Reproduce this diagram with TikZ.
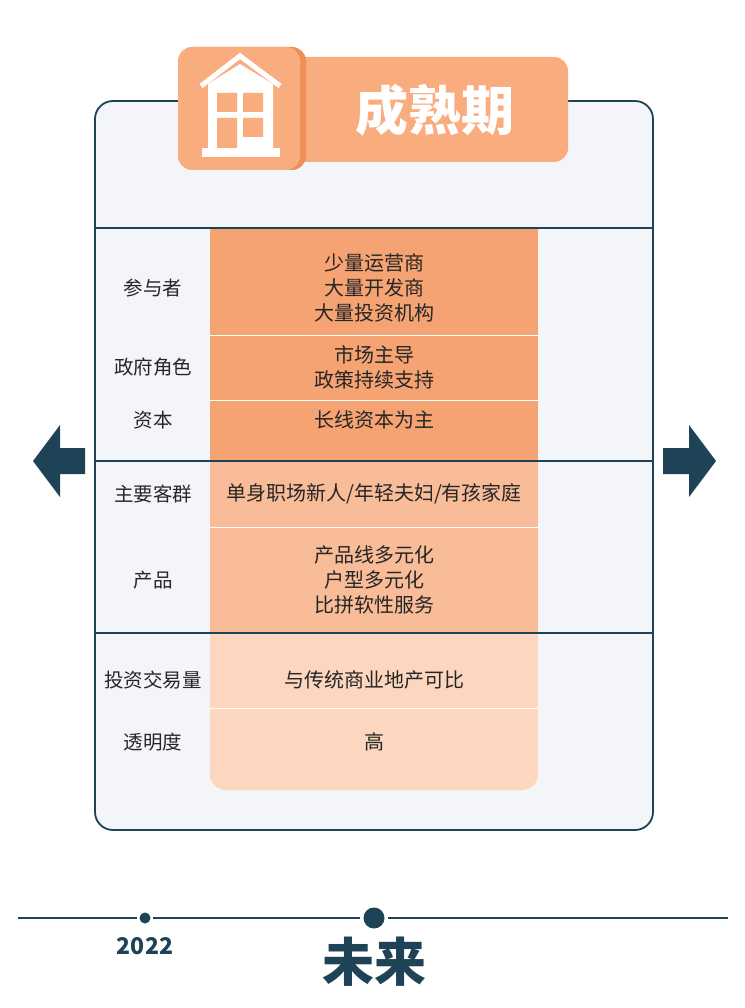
\documentclass[tikz,border=0pt]{standalone}
\usepackage{fontspec}
\setmainfont{Noto Sans CJK SC}
\usetikzlibrary{positioning}
\definecolor{navy}{HTML}{1E4356}
\definecolor{cardbg}{HTML}{F3F5F9}
\definecolor{orA}{HTML}{F5A372}
\definecolor{orB}{HTML}{F9BC98}
\definecolor{orC}{HTML}{FCD6BF}
\definecolor{orH}{HTML}{F9AC7E}
\definecolor{orD}{HTML}{EE8F58}
\tikzset{
  rowlbl/.style={font=\fontsize{19.5}{22}\selectfont, text=black!85, align=center},
  cell/.style={font=\fontsize{20}{25}\selectfont, text=black!85, align=center},
  sepline/.style={white, line width=0.8pt}
}
\begin{document}
\begin{tikzpicture}[x=1pt,y=-1pt]
\fill[white] (0,0) rectangle (744,1008);
% card
\draw[navy, line width=1.8pt, fill=cardbg, rounded corners=18pt] (95,101) rectangle (653,830);
% orange column
\fill[orA] (210,228) rectangle (538,461);
\fill[orB] (210,461) rectangle (538,633);
\fill[orC, rounded corners=16pt] (210,633) -- (210,790) -- (538,790) -- (538,633) -- cycle;
\fill[orC] (210,633) rectangle (538,660);
\draw[sepline] (210,335) -- (538,335) (210,400) -- (538,400) (210,527) -- (538,527) (210,708) -- (538,708);
\foreach \y in {228,461,633}{
  \draw[navy, line width=1.2pt] (95,\y) -- (653,\y);
}
% header
\fill[orH, rounded corners=14pt] (285,57) rectangle (568,162);
\fill[orD, rounded corners=14pt] (184,47) rectangle (306,170);
\fill[orH, rounded corners=14pt] (178,47) rectangle (300,170);
\node[font=\fontsize{53}{56}\selectfont\bfseries, text=white] (title) at (435,110) {成熟期};
% house icon
\draw[white, line width=5pt] (201,86) -- (240,56) -- (280,86);
\fill[white] (208,84) -- (240,64) -- (273,84) -- (273,148) -- (208,148) -- cycle;
\fill[white] (202,148) rectangle (280,157);
\fill[orH] (217,93) rectangle (237,112) (243,93) rectangle (263,112)
  (217,118) rectangle (237,148) (243,118) rectangle (263,137);
% arrows
\fill[navy] (33,461) -- (60,425) -- (60,448) -- (85,448) -- (85,474) -- (60,474) -- (60,497) -- cycle;
\fill[navy] (716,461) -- (689,425) -- (689,448) -- (663,448) -- (663,474) -- (689,474) -- (689,497) -- cycle;
% labels
\node[rowlbl] (l1) at (153,288) {参与者};
\node[rowlbl] (l2) at (153,367) {政府角色};
\node[rowlbl] (l3) at (153,420) {资本};
\node[rowlbl] (l4) at (153,494) {主要客群};
\node[rowlbl] (l5) at (153,580) {产品};
\node[rowlbl] (l6) at (153,680) {投资交易量};
\node[rowlbl] (l7) at (153,742) {透明度};
\node[cell] (c1) at (374,288) {少量运营商\\大量开发商\\大量投资机构};
\node[cell] (c2) at (374,367) {市场主导\\政策持续支持};
\node[cell] (c3) at (374,420) {长线资本为主};
\node[cell] (c4) at (374,494) {单身职场新人/年轻夫妇/有孩家庭};
\node[cell] (c5) at (374,580) {产品线多元化\\户型多元化\\比拼软性服务};
\node[cell] (c6) at (374,680) {与传统商业地产可比};
\node[cell] (c7) at (374,742) {高};
% timeline
\coordinate (tl) at (18,918);
\coordinate (tr) at (728,918);
\draw[navy, line width=2.5pt] (tl) -- (tr);
\fill[white] (145,918) circle (8);
\fill[navy] (145,918) circle (5.5);
\fill[white] (374,918) circle (14);
\fill[navy] (374,918) circle (10.5);
\node[font=\fontsize{23}{26}\selectfont\bfseries, text=navy] (year) at (145,946) {2022};
\node[font=\fontsize{52}{56}\selectfont\bfseries, text=navy] (future) at (374,962) {未来};
\end{tikzpicture}
\end{document}
